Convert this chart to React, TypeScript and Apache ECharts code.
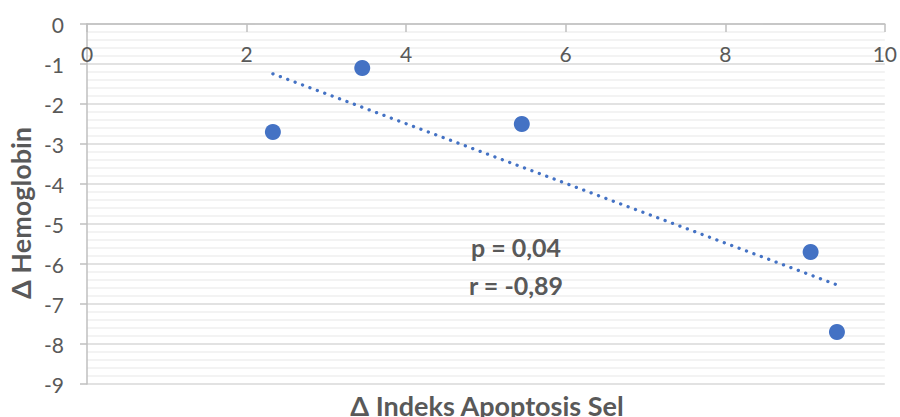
import React, { useEffect, useRef } from "react";
import * as echarts from "echarts";

// Δ Indeks Apoptosis Sel (x) vs Δ Hemoglobin (y)
const apoptosisDelta = [2.33, 3.45, 5.45, 9.07, 9.4];
const hemoglobinDelta = [-2.7, -1.1, -2.5, -5.7, -7.7];

const statLines = ["p = 0,04", "r = -0,89"];

const xAxisTitle = "Δ Indeks Apoptosis Sel";
const yAxisTitle = "Δ Hemoglobin";

// least-squares linear trend over the observed x range
function trendEndpoints(xs: number[], ys: number[]) {
  const n = xs.length;
  const mx = xs.reduce((a, b) => a + b, 0) / n;
  const my = ys.reduce((a, b) => a + b, 0) / n;
  let sxy = 0;
  let sxx = 0;
  for (let i = 0; i < n; i++) {
    sxy += (xs[i] - mx) * (ys[i] - my);
    sxx += (xs[i] - mx) * (xs[i] - mx);
  }
  const slope = sxy / sxx;
  const intercept = my - slope * mx;
  const x0 = Math.min(...xs);
  const x1 = Math.max(...xs);
  return [
    [x0, intercept + slope * x0],
    [x1, intercept + slope * x1],
  ];
}

const FONT = "Lato, 'Open Sans', sans-serif";
const TEXT = "#595959";
const BLUE = "#4472C4";

function label(text: string, x: number, y: number, size: number, extra: object = {}) {
  return {
    type: "text",
    x,
    y,
    z: 100,
    zlevel: 0,
    ...extra,
    style: {
      text,
      fill: TEXT,
      font: `bold ${size}px ${FONT}`,
      textAlign: "center",
      textVerticalAlign: "middle",
    },
  };
}

export default function App() {
  const ref = useRef<HTMLDivElement>(null);

  useEffect(() => {
    if (!ref.current) return;
    const chart = echarts.init(ref.current, undefined, { renderer: "svg" });
    const points = apoptosisDelta.map((x, i) => [x, hemoglobinDelta[i]]);

    chart.setOption({
      animation: false,
      backgroundColor: "#ffffff",
      grid: { left: 87, right: 13, top: 24, bottom: 33 },
      xAxis: {
        type: "value",
        position: "top",
        min: 0,
        max: 10,
        interval: 2,
        axisLine: { show: true, onZero: false, lineStyle: { color: "#bfbfbf", width: 1.5 } },
        axisTick: { show: true, inside: true, length: 8, lineStyle: { color: "#bfbfbf", width: 1.5 } },
        axisLabel: {
          inside: true,
          margin: 19,
          color: TEXT,
          fontSize: 21,
          fontFamily: FONT,
          showMaxLabel: true,
          showMinLabel: true,
        },
        splitLine: { show: false },
      },
      yAxis: {
        type: "value",
        min: -9,
        max: 0,
        interval: 1,
        axisLine: { show: true, lineStyle: { color: "#bfbfbf", width: 1.5 } },
        axisTick: { show: true, length: 7, lineStyle: { color: "#bfbfbf", width: 1.5 } },
        axisLabel: {
          margin: 23,
          color: TEXT,
          fontSize: 21,
          fontFamily: FONT,
        },
        splitLine: { show: true, lineStyle: { color: "#d9d9d9", width: 1.5 } },
        minorTick: { show: false, splitNumber: 5 },
        minorSplitLine: { show: true, lineStyle: { color: "#efefef", width: 1.5 } },
      },
      series: [
        {
          type: "line",
          data: trendEndpoints(apoptosisDelta, hemoglobinDelta),
          showSymbol: false,
          symbol: "none",
          lineStyle: { color: BLUE, width: 3.3, type: [0.1, 7.8], cap: "round" },
          z: 2,
        },
        {
          type: "scatter",
          data: points,
          symbolSize: 16,
          itemStyle: { color: BLUE, opacity: 1 },
          z: 3,
        },
      ],
      graphic: [
        label(yAxisTitle, 20, 213, 27, { rotation: Math.PI / 2 }),
        label(xAxisTitle, 487, 405, 27),
        label(statLines[0], 516, 247, 25),
        label(statLines[1], 516, 285, 25),
      ],
    });

    return () => chart.dispose();
  }, []);

  return (
    <div
      ref={ref}
      style={{ width: 900, height: 417, position: "fixed", left: 0, top: 0 }}
    />
  );
}
